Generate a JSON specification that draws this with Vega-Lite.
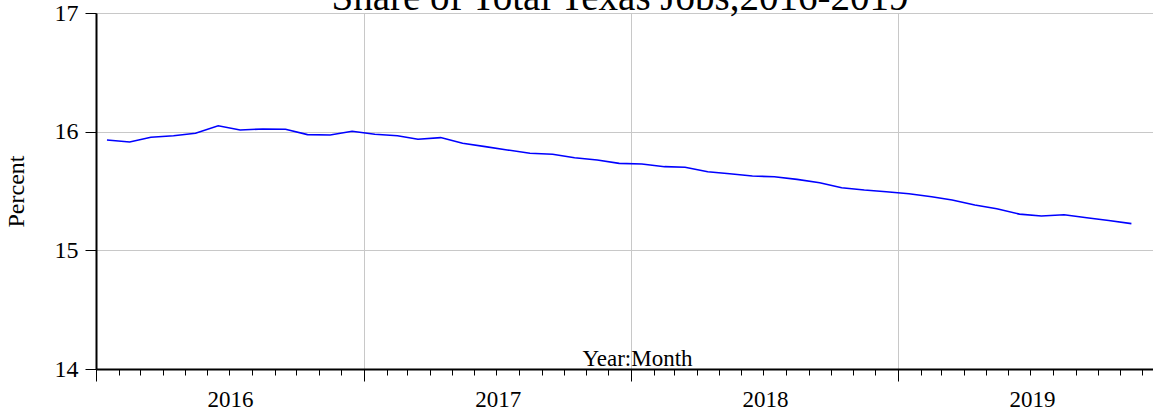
{
  "$schema": "https://vega.github.io/schema/vega-lite/v6.json",
  "autosize": "none",
  "padding": {"left": 96, "top": 13, "right": 0, "bottom": 45},
  "width": 1057,
  "height": 356,
  "background": "white",
  "config": {
    "font": "Liberation Serif",
    "view": {"stroke": "black", "strokeWidth": 1},
    "axis": {
      "labelFont": "Liberation Serif",
      "titleFont": "Liberation Serif",
      "labelColor": "black",
      "titleColor": "black",
      "titleFontWeight": "normal",
      "domainColor": "black",
      "domainWidth": 2,
      "tickColor": "black",
      "tickWidth": 1,
      "gridColor": "#c8c8c8",
      "gridWidth": 1
    }
  },
  "datasets": {
    "series": [
      {"date": "2016-01-16", "pct": 15.930},
      {"date": "2016-02-16", "pct": 15.913},
      {"date": "2016-03-16", "pct": 15.953},
      {"date": "2016-04-16", "pct": 15.966},
      {"date": "2016-05-16", "pct": 15.986},
      {"date": "2016-06-16", "pct": 16.050},
      {"date": "2016-07-16", "pct": 16.014},
      {"date": "2016-08-16", "pct": 16.023},
      {"date": "2016-09-16", "pct": 16.020},
      {"date": "2016-10-16", "pct": 15.975},
      {"date": "2016-11-16", "pct": 15.972},
      {"date": "2016-12-16", "pct": 16.003},
      {"date": "2017-01-16", "pct": 15.978},
      {"date": "2017-02-16", "pct": 15.966},
      {"date": "2017-03-16", "pct": 15.936},
      {"date": "2017-04-16", "pct": 15.950},
      {"date": "2017-05-16", "pct": 15.902},
      {"date": "2017-06-16", "pct": 15.874},
      {"date": "2017-07-16", "pct": 15.846},
      {"date": "2017-08-16", "pct": 15.818},
      {"date": "2017-09-16", "pct": 15.810},
      {"date": "2017-10-16", "pct": 15.780},
      {"date": "2017-11-16", "pct": 15.761},
      {"date": "2017-12-16", "pct": 15.733},
      {"date": "2018-01-16", "pct": 15.727},
      {"date": "2018-02-16", "pct": 15.705},
      {"date": "2018-03-16", "pct": 15.700},
      {"date": "2018-04-16", "pct": 15.662},
      {"date": "2018-05-16", "pct": 15.646},
      {"date": "2018-06-16", "pct": 15.626},
      {"date": "2018-07-16", "pct": 15.620},
      {"date": "2018-08-16", "pct": 15.598},
      {"date": "2018-09-16", "pct": 15.570},
      {"date": "2018-10-16", "pct": 15.527},
      {"date": "2018-11-16", "pct": 15.508},
      {"date": "2018-12-16", "pct": 15.494},
      {"date": "2019-01-16", "pct": 15.477},
      {"date": "2019-02-16", "pct": 15.452},
      {"date": "2019-03-16", "pct": 15.424},
      {"date": "2019-04-16", "pct": 15.382},
      {"date": "2019-05-16", "pct": 15.350},
      {"date": "2019-06-16", "pct": 15.305},
      {"date": "2019-07-16", "pct": 15.289},
      {"date": "2019-08-16", "pct": 15.300},
      {"date": "2019-09-16", "pct": 15.275},
      {"date": "2019-10-16", "pct": 15.252},
      {"date": "2019-11-16", "pct": 15.225}
    ],
    "heading": [
      {"label": "Share of Total Texas Jobs,2016-2019", "date": "2017-12-17", "pct": 17}
    ]
  },
  "layer": [
    {
      "data": {"name": "series"},
      "mark": {"type": "line", "color": "#0000ff", "strokeWidth": 1.6, "clip": true},
      "encoding": {
        "x": {
          "field": "date",
          "type": "temporal",
          "scale": {
            "type": "utc",
            "nice": false,
            "domain": [
              {"year": 2016, "month": 1, "date": 1, "utc": true},
              {"year": 2019, "month": 12, "date": 15, "hours": 12, "utc": true}
            ]
          },
          "axis": {
            "title": "Year:Month",
            "titleFontSize": 23,
            "titleX": 541,
            "titleY": -4,
            "titleAlign": "center",
            "titleBaseline": "alphabetic",
            "tickCount": {"interval": "month", "step": 1},
            "labelExpr": "utcmonth(datum.value) == 0 ? utcFormat(datum.value, '%Y') : ''",
            "labelOffset": 134,
            "labelOverlap": false,
            "labelFlush": false,
            "labelBound": false,
            "labelFontSize": 23,
            "labelPadding": 7,
            "labelAlign": "center",
            "tickSize": {"condition": {"test": "utcmonth(datum.value) == 0", "value": 12}, "value": 6},
            "grid": true,
            "gridOpacity": {"condition": {"test": "utcmonth(datum.value) == 0", "value": 1}, "value": 0}
          }
        },
        "y": {
          "field": "pct",
          "type": "quantitative",
          "scale": {"domain": [14, 17], "nice": false, "zero": false},
          "axis": {
            "title": "Percent",
            "titleFontSize": 24,
            "titleAngle": -90,
            "titleX": -80,
            "titleY": 178,
            "titleAlign": "center",
            "titleBaseline": "middle",
            "values": [14, 15, 16, 17],
            "format": "d",
            "tickSize": 11,
            "labelPadding": 7,
            "labelFontSize": 24,
            "grid": true
          }
        }
      }
    },
    {
      "data": {"name": "heading"},
      "mark": {
        "type": "text",
        "font": "Liberation Serif",
        "fontSize": 39,
        "color": "black",
        "align": "center",
        "baseline": "alphabetic",
        "dy": -3
      },
      "encoding": {
        "x": {"field": "date", "type": "temporal"},
        "y": {"field": "pct", "type": "quantitative"},
        "text": {"field": "label"}
      }
    }
  ]
}
